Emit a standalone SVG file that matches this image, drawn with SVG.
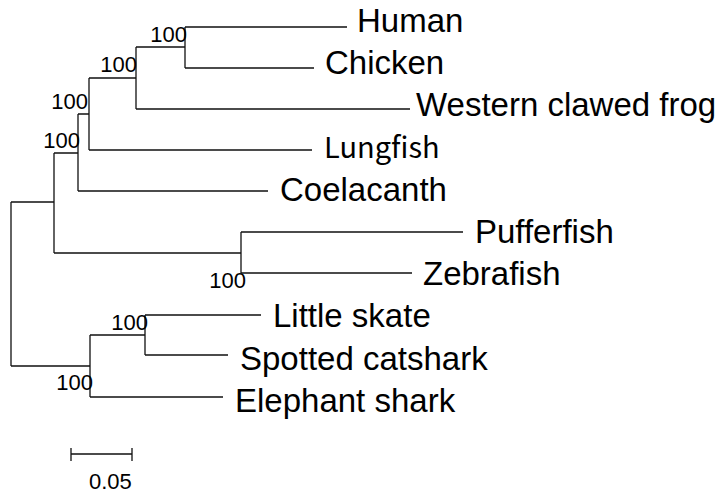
<svg xmlns="http://www.w3.org/2000/svg" width="726" height="496" viewBox="0 0 726 496">
<style>
.br{fill:none;stroke:#111;stroke-width:1.3}
.leaf{font-family:"Liberation Sans",Arial,sans-serif;font-size:33px;fill:#000}
.lung{font-family:"Noto Sans CJK JP","Liberation Sans",sans-serif;font-size:29px;fill:#000}
.bs{font-family:"Liberation Sans",Arial,sans-serif;font-size:22px;fill:#000;text-anchor:end}
.sc{font-family:"Liberation Sans",Arial,sans-serif;font-size:22px;fill:#000}
</style>
<rect width="726" height="496" fill="#fff"/>
<g id="connectors">
<path class="br" d="M11 202V366M11 202H54M11 366H90"/>
<path class="br" d="M54 153V253M54 153H78M54 253H241"/>
<path class="br" d="M78 114V191M78 114H89M78 191H268"/>
<path class="br" d="M89 78V150M89 78H136M89 150H312"/>
<path class="br" d="M136 47V109M136 47H185M136 109H410"/>
<path class="br" d="M185 27V68M185 27H347M185 68H314"/>
<path class="br" d="M241 232V273M241 232H463M241 273H412"/>
<path class="br" d="M90 335V397M90 335H145M90 397H223"/>
<path class="br" d="M145 315V355M145 315H261M145 355H228"/>
</g>
<g id="leaf-human"><text class="leaf" x="357" y="32">Human</text></g>
<g id="leaf-chicken"><text class="leaf" x="325" y="74">Chicken</text></g>
<g id="leaf-frog"><text class="leaf" x="416" y="116">Western clawed frog</text></g>
<g id="leaf-lungfish"><text class="lung" x="324" y="158">Lungfish</text></g>
<g id="leaf-coelacanth"><text class="leaf" x="280" y="201">Coelacanth</text></g>
<g id="leaf-pufferfish"><text class="leaf" x="475" y="243">Pufferfish</text></g>
<g id="leaf-zebrafish"><text class="leaf" x="423" y="285">Zebrafish</text></g>
<g id="leaf-littleskate"><text class="leaf" x="273" y="327">Little skate</text></g>
<g id="leaf-catshark"><text class="leaf" x="240" y="370">Spotted catshark</text></g>
<g id="leaf-elephantshark"><text class="leaf" x="235" y="412">Elephant shark</text></g>
<g id="node-amniota"><text class="bs" x="187" y="42">100</text></g>
<g id="node-tetrapoda"><text class="bs" x="137" y="72">100</text></g>
<g id="node-rhipidistia"><text class="bs" x="88" y="109">100</text></g>
<g id="node-sarcopterygii"><text class="bs" x="80" y="148">100</text></g>
<g id="node-teleostei"><text class="bs" x="246" y="288">100</text></g>
<g id="node-elasmobranchii"><text class="bs" x="148" y="330">100</text></g>
<g id="node-chondrichthyes"><text class="bs" x="93" y="390">100</text></g>
<g id="scale">
<path class="br" d="M71 454H132M71 448V461M132 448V461"/>
<text class="sc" x="89" y="489">0.05</text>
</g>
</svg>
